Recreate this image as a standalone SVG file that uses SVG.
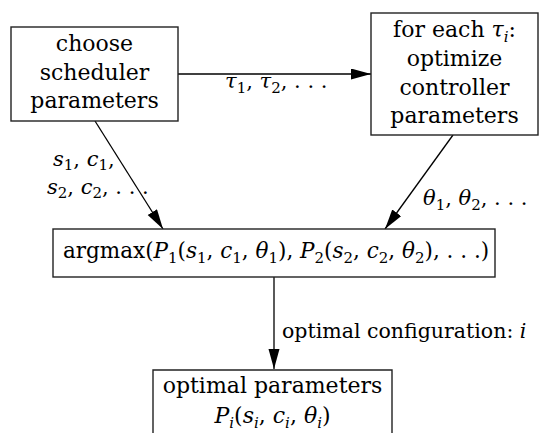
<svg xmlns="http://www.w3.org/2000/svg" width="540" height="433" viewBox="0 0 540 433">
<style>
text{font-family:'DejaVu Serif','Liberation Serif',serif;font-size:22px;fill:#000}
.c{text-anchor:middle}
.i{font-style:italic}
.s{font-size:15px}
.lab{font-size:21px}
.box{fill:#fff;stroke:#222;stroke-width:1.4}
.ln{fill:none;stroke:#000;stroke-width:1.3}
</style>
<defs>
<marker id="ah" markerUnits="userSpaceOnUse" markerWidth="22" markerHeight="12" refX="20" refY="5.5" orient="auto">
<path d="M0,0 L20,5.5 L0,11 z" fill="#000"/>
</marker>
</defs>
<rect width="540" height="433" fill="#fff"/>
<g id="connectors">
<path class="ln" d="M178,74 L371,74" marker-end="url(#ah)"/>
<path class="ln" d="M95,121 L163,229" marker-end="url(#ah)"/>
<path class="ln" d="M453,135 L385,229" marker-end="url(#ah)"/>
<path class="ln" d="M274,277 L274,369" marker-end="url(#ah)"/>
<text class="lab" x="225" y="88"><tspan class="i">τ</tspan><tspan class="s" dy="5">1</tspan><tspan dy="-5">, </tspan><tspan class="i">τ</tspan><tspan class="s" dy="5">2</tspan><tspan dy="-5">, . . .</tspan></text>
<text class="lab" x="53" y="166"><tspan class="i">s</tspan><tspan class="s" dy="4">1</tspan><tspan dy="-4">, </tspan><tspan class="i">c</tspan><tspan class="s" dy="4">1</tspan><tspan dy="-4">,</tspan></text>
<text class="lab" x="47" y="194"><tspan class="i">s</tspan><tspan class="s" dy="4">2</tspan><tspan dy="-4">, </tspan><tspan class="i">c</tspan><tspan class="s" dy="4">2</tspan><tspan dy="-4">, . . .</tspan></text>
<text class="lab" x="423" y="205"><tspan class="i">θ</tspan><tspan class="s" dy="5">1</tspan><tspan dy="-5">, </tspan><tspan class="i">θ</tspan><tspan class="s" dy="5">2</tspan><tspan dy="-5">, . . .</tspan></text>
<text x="282" y="338" style="font-size:20.5px">optimal configuration: <tspan class="i">i</tspan></text>
</g>
<g id="n1">
<rect class="box" x="11" y="27" width="167" height="94"/>
<text class="c" x="94.5" y="51">choose</text>
<text class="c" x="94.5" y="80">scheduler</text>
<text class="c" x="94.5" y="108">parameters</text>
</g>
<g id="n2">
<rect class="box" x="371" y="13" width="167" height="122"/>
<text class="c" x="454.5" y="37">for each <tspan class="i">τ</tspan><tspan class="s i" dy="5">i</tspan><tspan dy="-5">:</tspan></text>
<text class="c" x="454.5" y="66">optimize</text>
<text class="c" x="454.5" y="95">controller</text>
<text class="c" x="454.5" y="123">parameters</text>
</g>
<g id="n3">
<rect class="box" x="53" y="229" width="442" height="48"/>
<text x="63" y="258" style="font-size:21.5px">argmax(<tspan class="i">P</tspan><tspan class="s" dy="5">1</tspan><tspan dy="-5">(</tspan><tspan class="i">s</tspan><tspan class="s" dy="5">1</tspan><tspan dy="-5">, </tspan><tspan class="i">c</tspan><tspan class="s" dy="5">1</tspan><tspan dy="-5">, </tspan><tspan class="i">θ</tspan><tspan class="s" dy="5">1</tspan><tspan dy="-5">), </tspan><tspan class="i">P</tspan><tspan class="s" dy="5">2</tspan><tspan dy="-5">(</tspan><tspan class="i">s</tspan><tspan class="s" dy="5">2</tspan><tspan dy="-5">, </tspan><tspan class="i">c</tspan><tspan class="s" dy="5">2</tspan><tspan dy="-5">, </tspan><tspan class="i">θ</tspan><tspan class="s" dy="5">2</tspan><tspan dy="-5">), . . .)</tspan></text>
</g>
<g id="n4">
<path class="box" d="M153,440 V370 H392 V440"/>
<text class="c" x="272.5" y="393">optimal parameters</text>
<text class="c" x="272.5" y="423"><tspan class="i">P</tspan><tspan class="s i" dy="5">i</tspan><tspan dy="-5">(</tspan><tspan class="i">s</tspan><tspan class="s i" dy="5">i</tspan><tspan dy="-5">, </tspan><tspan class="i">c</tspan><tspan class="s i" dy="5">i</tspan><tspan dy="-5">, </tspan><tspan class="i">θ</tspan><tspan class="s i" dy="5">i</tspan><tspan dy="-5">)</tspan></text>
</g>
</svg>
